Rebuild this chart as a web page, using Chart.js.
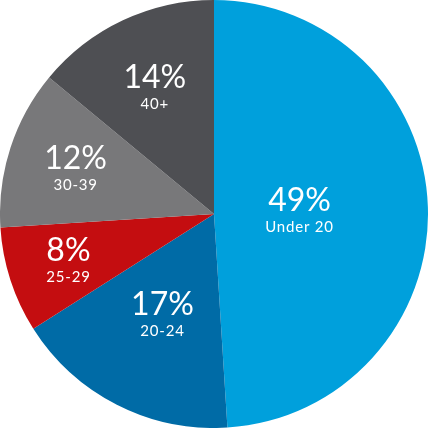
<!DOCTYPE html>
<html>
<head>
<meta charset="utf-8">
<script src="https://cdn.jsdelivr.net/npm/chart.js@4"></script>
<style>
  html, body { margin: 0; padding: 0; background: #fff; }
  #wrap { width: 428px; height: 428px; }
</style>
</head>
<body>
<div id="wrap"><canvas id="pie" width="428" height="428"></canvas></div>
<script>
'use strict';

// age groups, share of total in percent
let ageGroups = ['Under 20', '20-24', '25-29', '30-39', '40+'];
let shares = [49, 17, 8, 12, 14];
let sliceColors = ['#00a0dc', '#006ba6', '#c40d10', '#78787a', '#4e4f53'];

// how far out from the centre each label sits (fraction of radius)
let labelReach = [0.40, 0.53, 0.715, 0.68, 0.65];

const sliceLabels = {
  id: 'sliceLabels',
  afterDatasetsDraw(chart) {
    let ctx = chart.ctx;
    let arcs = chart.getDatasetMeta(0).data;
    ctx.save();
    ctx.fillStyle = '#ffffff';
    ctx.textAlign = 'center';
    ctx.textBaseline = 'alphabetic';
    for (let i = 0; i < arcs.length; i++) {
      let arc = arcs[i];
      let mid = (arc.startAngle + arc.endAngle) / 2;
      let r = arc.outerRadius * labelReach[i];
      let x = arc.x + Math.cos(mid) * r;
      let y = arc.y + Math.sin(mid) * r;
      ctx.letterSpacing = '0px';
      ctx.font = '32px Lato';
      ctx.fillText(shares[i] + '%', x, y);
      ctx.letterSpacing = '0.8px';
      ctx.font = '15px Lato';
      ctx.fillText(ageGroups[i], x, y + 21);
    }
    ctx.restore();
  }
};

const ctx = document.getElementById('pie').getContext('2d');
let pie = new Chart(ctx, { //eslint-disable-line
  type: 'pie',
  data: {
    labels: ageGroups,
    datasets: [{
      data: shares,
      backgroundColor: sliceColors,
      borderWidth: 0
    }]
  },
  options: {
    responsive: false,
    animation: false,
    layout: { padding: 0 },
    plugins: {
      legend: { display: false },
      tooltip: { enabled: false }
    }
  },
  plugins: [sliceLabels]
});
</script>
</body>
</html>
